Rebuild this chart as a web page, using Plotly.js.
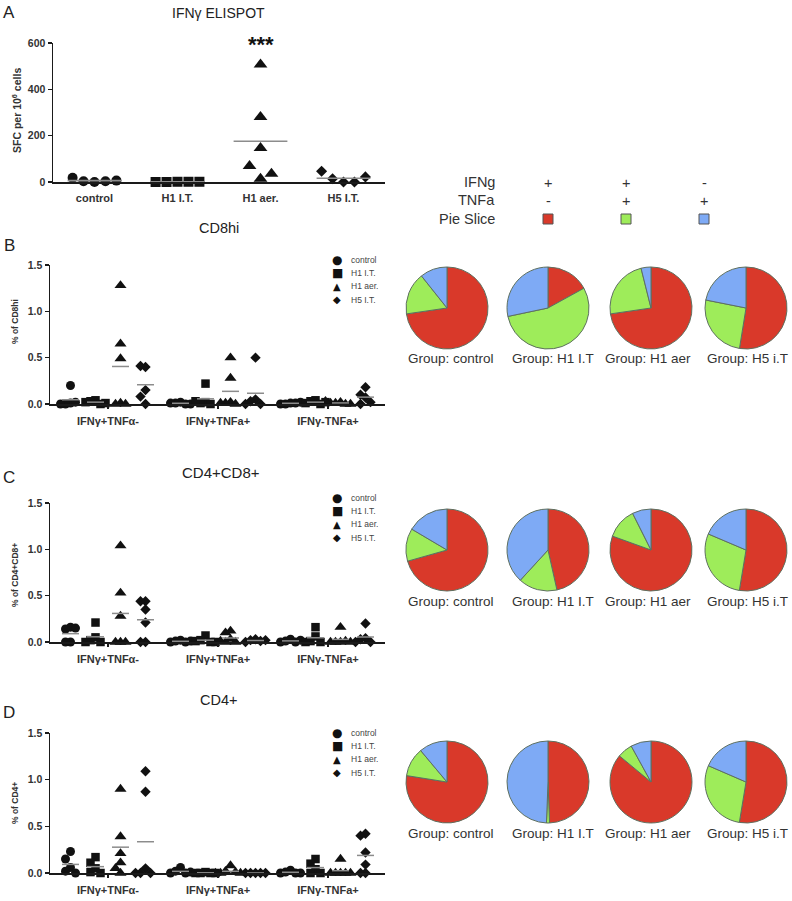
<!DOCTYPE html>
<html><head><meta charset="utf-8">
<script src="https://cdn.plot.ly/plotly-3.0.1.min.js"></script>
<style>html,body{margin:0;padding:0;background:#fff}</style>
</head><body><div id="chart" style="width:792px;height:901px"></div>
<script>
// ---------- DATA ----------
const elispotGroups = ['control', 'H1 I.T.', 'H1 aer.', 'H5 I.T.'];
const elispot_control = [0, 3, 3, 18, 6];
const elispot_h1it = [1, 0, 1, 0, 1];
const elispot_h1aer = [507, 281, 147, 14, 69, 36];
const elispot_h5it = [0, 14, 0, 46, 22];

const categories = ['IFNγ+TNFα-', 'IFNγ+TNFa+', 'IFNγ-TNFa+'];
const legendNames = ['control', 'H1 I.T.', 'H1 aer.', 'H5 I.T.'];

// CD8hi (per category: IFNγ+TNFα-, IFNγ+TNFa+, IFNγ-TNFa+)
const cd8hi_control = [[0.2, 0.01, 0.0, 0.02, 0.0], [0.02, 0.01, 0.0, 0.01, 0.0], [0.01, 0.0, 0.01, 0.0, 0.02]];
const cd8hi_h1it = [[0.04, 0.03, 0.0, 0.02, 0.01], [0.22, 0.02, 0.01, 0.0, 0.03], [0.04, 0.03, 0.0, 0.01, 0.02]];
const cd8hi_h1aer = [[1.28, 0.65, 0.49, 0.01, 0.0, 0.0], [0.5, 0.28, 0.02, 0.01, 0.0, 0.01], [0.02, 0.01, 0.0, 0.01, 0.0, 0.03]];
const cd8hi_h5it = [[0.40, 0.41, 0.15, 0.08, 0.0], [0.5, 0.05, 0.03, 0.0, 0.0], [0.18, 0.1, 0.07, 0.02, 0.0]];

// CD4+CD8+
const cd4cd8_control = [[0.16, 0.14, 0.15, 0.0, 0.0], [0.02, 0.01, 0.0, 0.0, 0.01], [0.03, 0.01, 0.0, 0.0, 0.02]];
const cd4cd8_h1it = [[0.21, 0.05, 0.02, 0.0, 0.0], [0.07, 0.02, 0.0, 0.01, 0.0], [0.16, 0.06, 0.01, 0.0, 0.0]];
const cd4cd8_h1aer = [[1.04, 0.53, 0.28, 0.0, 0.0, 0.0], [0.12, 0.1, 0.03, 0.0, 0.0, 0.01], [0.16, 0.0, 0.0, 0.01, 0.0, 0.0]];
const cd4cd8_h5it = [[0.44, 0.44, 0.35, 0.21, 0.0, 0.0], [0.03, 0.02, 0.01, 0.0, 0.02], [0.2, 0.04, 0.03, 0.0, 0.0]];

// CD4+
const cd4_control = [[0.23, 0.15, 0.06, 0.02, 0.0], [0.06, 0.02, 0.0, 0.0, 0.01], [0.03, 0.01, 0.0, 0.0, 0.0]];
const cd4_h1it = [[0.17, 0.11, 0.05, 0.01, 0.0], [0.01, 0.0, 0.0, 0.0, 0.0], [0.15, 0.1, 0.04, 0.0, 0.0]];
const cd4_h1aer = [[0.90, 0.39, 0.21, 0.11, 0.05, 0.0], [0.08, 0.02, 0.01, 0.0, 0.0, 0.0], [0.15, 0.0, 0.0, 0.0, 0.0, 0.0]];
const cd4_h5it = [[1.09, 0.87, 0.05, 0.0, 0.0, 0.0], [0.0, 0.0, 0.0, 0.0, 0.0], [0.42, 0.40, 0.22, 0.09, 0.0, 0.0]];

// Pie charts: [IFNg+TNFa-, IFNg+TNFa+, IFNg-TNFa+] (%)
const pieGroups = ['Group: control', 'Group: H1 I.T', 'Group: H1 aer', 'Group: H5 i.T'];
const sliceNames = ['IFNg+ TNFa-', 'IFNg+ TNFa+', 'IFNg- TNFa+'];
const pie_cd8hi = [[72.7, 16.6, 10.7], [17.0, 54.7, 28.3], [72.7, 23.4, 3.9], [52.6, 25.6, 21.9]];
const pie_cd4cd8 = [[70.6, 12.9, 16.5], [46.5, 15.3, 38.2], [80.5, 12.1, 7.4], [52.6, 28.8, 18.6]];
const pie_cd4 = [[77.5, 11.4, 11.1], [49.4, 1.2, 49.4], [86.0, 6.0, 8.0], [52.6, 28.9, 18.5]];
const ifngSigns = ['+', '+', '-'];
const tnfaSigns = ['-', '+', '+'];

// ---------- STYLE / LAYOUT HELPERS ----------
const W = 792, H = 901;
const FONT = 'Liberation Sans, Arial, Helvetica, sans-serif';
const px = x => x / W;
const py = y => 1 - y / H;
const sliceColors = ['#d9392a', '#9eec5a', '#7eaaf5'];
const symbols = ['circle', 'square', 'triangle-up', 'diamond'];
const sizesA = [10, 10, 12, 8.5];
const sizesB = [9, 8.5, 10.5, 8];
const legendGlyphs = ['●', '■', '▲', '◆'];
const markColor = '#111';
const axisColor = '#1a1a1a';
const meanColor = '#8c8c8c';

function swarm(vals, pxPerUnit, thresh) {
  const placed = [], slots = [];
  const order = [0, -1, 1, -2, 2, -3, 3, -4, 4, -5, 5, -6, 6];
  vals.forEach(v => {
    const p = v * pxPerUnit;
    for (const s of order) {
      if (!placed.some(q => q.s === s && Math.abs(q.p - p) < thresh)) {
        placed.push({ s, p }); slots.push(s); break;
      }
    }
  });
  return slots;
}
const mean = a => a.reduce((s, v) => s + v, 0) / a.length;

const traces = [];
const annotations = [];
const shapes = [];

function ann(text, x, y, opt) {
  annotations.push(Object.assign({
    text, x: px(x), y: py(y), xref: 'paper', yref: 'paper', showarrow: false,
    xanchor: 'center', yanchor: 'middle',
    font: { family: FONT, size: 12, color: '#222' }
  }, opt || {}));
}

// ---------- PANEL A ----------
const aSets = [elispot_control, elispot_h1it, elispot_h1aer, elispot_h5it];
const aMeanX = [], aMeanY = [];
aSets.forEach((vals, g) => {
  const slots = swarm(vals, 139 / 600, 13);
  traces.push({
    type: 'scatter', mode: 'markers', xaxis: 'x', yaxis: 'y',
    x: vals.map((v, i) => g + slots[i] * 0.132), y: vals,
    marker: { symbol: symbols[g], size: sizesA[g], color: markColor },
    cliponaxis: false, hoverinfo: 'skip', name: elispotGroups[g]
  });
  const m = mean(vals);
  aMeanX.push(g - 0.324, g + 0.324, null);
  aMeanY.push(m, m, null);
});
traces.push({
  type: 'scatter', mode: 'lines', xaxis: 'x', yaxis: 'y', x: aMeanX, y: aMeanY,
  line: { color: meanColor, width: 1.6 }, cliponaxis: false, hoverinfo: 'skip'
});

// ---------- PANELS B, C, D ----------
const panels = [
  { ax: '2', sets: [cd8hi_control, cd8hi_h1it, cd8hi_h1aer, cd8hi_h5it] },
  { ax: '3', sets: [cd4cd8_control, cd4cd8_h1it, cd4cd8_h1aer, cd4cd8_h5it] },
  { ax: '4', sets: [cd4_control, cd4_h1it, cd4_h1aer, cd4_h5it] }
];
const catStep = 4.4;
panels.forEach(pn => {
  const mx = [], my = [];
  pn.sets.forEach((byCat, g) => {
    const xs = [], ys = [];
    byCat.forEach((vals, c) => {
      const slots = swarm(vals, 139 / 1.5, 8);
      const cx = c * catStep + (g - 1.5);
      vals.forEach((v, i) => { xs.push(cx + slots[i] * 0.2); ys.push(v); });
      const m = mean(vals);
      mx.push(cx - 0.34, cx + 0.34, null); my.push(m, m, null);
    });
    traces.push({
      type: 'scatter', mode: 'markers', xaxis: 'x' + pn.ax, yaxis: 'y' + pn.ax,
      x: xs, y: ys, marker: { symbol: symbols[g], size: sizesB[g], color: markColor },
      cliponaxis: false, hoverinfo: 'skip', name: legendNames[g]
    });
  });
  traces.push({
    type: 'scatter', mode: 'lines', xaxis: 'x' + pn.ax, yaxis: 'y' + pn.ax, x: mx, y: my,
    line: { color: meanColor, width: 1.5 }, cliponaxis: false, hoverinfo: 'skip'
  });
});

// ---------- PIES ----------
const pieCx = [447, 548, 651, 746];
const labelCx = [451, 553, 648, 747];
function addPies(values, cy, labelY) {
  values.forEach((v, i) => {
    traces.push({
      type: 'pie', values: v, labels: sliceNames, sort: false, direction: 'clockwise', rotation: 0,
      marker: { colors: sliceColors, line: { color: '#5e7060', width: 1 } },
      textinfo: 'none', hoverinfo: 'skip', showlegend: false,
      domain: { x: [px(pieCx[i] - 41), px(pieCx[i] + 41)], y: [py(cy + 41), py(cy - 41)] }
    });
    ann(pieGroups[i], labelCx[i], labelY,
      { font: { family: FONT, size: 13.5, color: '#333' } });
  });
}
addPies(pie_cd8hi, 308, 359);
addPies(pie_cd4cd8, 550, 601);
addPies(pie_cd4, 782, 833);

// ---------- ANNOTATIONS ----------
[['A', 12], ['B', 245], ['C', 477], ['D', 712]].forEach(([t, y]) =>
  ann(t, 9, y, { font: { family: FONT, size: 17, color: '#222' } }));
ann('IFNγ ELISPOT', 219, 13, { font: { family: FONT, size: 14, color: '#222' } });
ann('CD8hi', 219, 228, { font: { family: FONT, size: 14.5, color: '#222' } });
ann('CD4+CD8+', 221, 472, { font: { family: FONT, size: 15, color: '#222' } });
ann('CD4+', 218, 700, { font: { family: FONT, size: 14.5, color: '#222' } });
ann('***', 261, 44, { font: { family: FONT, size: 22, color: '#111', weight: 'bold' } });

ann('SFC per 10<sup>6</sup> cells', 17, 111, { textangle: -90, font: { family: FONT, size: 10.5, color: '#333', weight: 'bold' } });
const yTitleFont = { family: FONT, size: 8.5, color: '#333', weight: 'bold' };
ann('% of CD8hi', 15, 322, { textangle: -90, font: yTitleFont });
ann('% of CD4+CD8+', 15, 575, { textangle: -90, font: yTitleFont });
ann('% of CD4+', 15, 803, { textangle: -90, font: yTitleFont });

// symbol legends for B, C, D
[260, 498, 733].forEach(y0 => {
  legendNames.forEach((n, g) => {
    const y = y0 + g * 13.2;
    ann(legendGlyphs[g], 337, y, { font: { family: 'DejaVu Sans', size: g < 2 ? 12 : 10, color: markColor } });
    ann(n, 349, y, { xanchor: 'left', font: { family: FONT, size: 8.5, color: '#444' } });
  });
});

// pie slice key table
const keyX = [548, 626, 704];
const keyFont = { family: FONT, size: 14.5, color: '#333' };
ann('IFNg', 497, 182, { xanchor: 'right', font: keyFont });
ann('TNFa', 497, 200, { xanchor: 'right', font: keyFont });
ann('Pie Slice', 497, 219, { xanchor: 'right', font: keyFont });
keyX.forEach((x, i) => {
  ann(ifngSigns[i], x, 183, { font: keyFont });
  ann(tnfaSigns[i], x, 201, { font: keyFont });
  shapes.push({
    type: 'rect', xref: 'paper', yref: 'paper',
    x0: px(x - 5), x1: px(x + 5), y0: py(224), y1: py(214),
    fillcolor: sliceColors[i], line: { color: '#555', width: 1 }
  });
});

// ---------- AXES ----------
const tickFontY = { family: FONT, size: 10.5, color: '#333', weight: 'bold' };
const tickFontX = { family: FONT, size: 11, color: '#333', weight: 'bold' };
function yAx(domTop, domBot, range, tickvals, fmt) {
  return {
    domain: [py(domBot), py(domTop)], range, tickvals, tickformat: fmt,
    showline: true, linecolor: axisColor, linewidth: 1.5, ticks: 'outside', ticklen: 4,
    tickwidth: 1.5, tickcolor: axisColor, showgrid: false, zeroline: false,
    tickfont: tickFontY, fixedrange: true
  };
}
function xAx(anchor, left, range, tickvals, ticktext, ticks) {
  return {
    domain: [px(left), px(385)], range, tickvals, ticktext, anchor,
    showline: true, linecolor: axisColor, linewidth: 1.5,
    ticks: ticks ? 'outside' : '', ticklen: 3, tickwidth: 1.2, tickcolor: axisColor,
    showgrid: false, zeroline: false, tickfont: tickFontX, fixedrange: true,
    ticklabelstandoff: ticks ? 3 : 5
  };
}
const catVals = categories.map((c, i) => i * catStep);
const catRange = [-2.32, 11.08];

const layout = {
  width: W, height: H, margin: { l: 0, r: 0, t: 0, b: 0 },
  paper_bgcolor: '#fff', plot_bgcolor: 'rgba(0,0,0,0)', showlegend: false,
  xaxis: xAx('y', 53, [-0.5, 3.5], [0, 1, 2, 3], elispotGroups, false),
  yaxis: yAx(43, 182, [0, 600], [0, 200, 400, 600], 'd'),
  xaxis2: xAx('y2', 50, catRange, catVals, categories, true),
  yaxis2: yAx(265, 404, [0, 1.5], [0, 0.5, 1, 1.5], '.1f'),
  xaxis3: xAx('y3', 50, catRange, catVals, categories, true),
  yaxis3: yAx(503, 642, [0, 1.5], [0, 0.5, 1, 1.5], '.1f'),
  xaxis4: xAx('y4', 50, catRange, catVals, categories, true),
  yaxis4: yAx(733, 873, [0, 1.5], [0, 0.5, 1, 1.5], '.1f'),
  annotations, shapes
};
layout.yaxis.anchor = 'x';
layout.yaxis2.anchor = 'x2';
layout.yaxis3.anchor = 'x3';
layout.yaxis4.anchor = 'x4';

Plotly.newPlot('chart', traces, layout, { staticPlot: true, displayModeBar: false });
</script>
</body></html>
